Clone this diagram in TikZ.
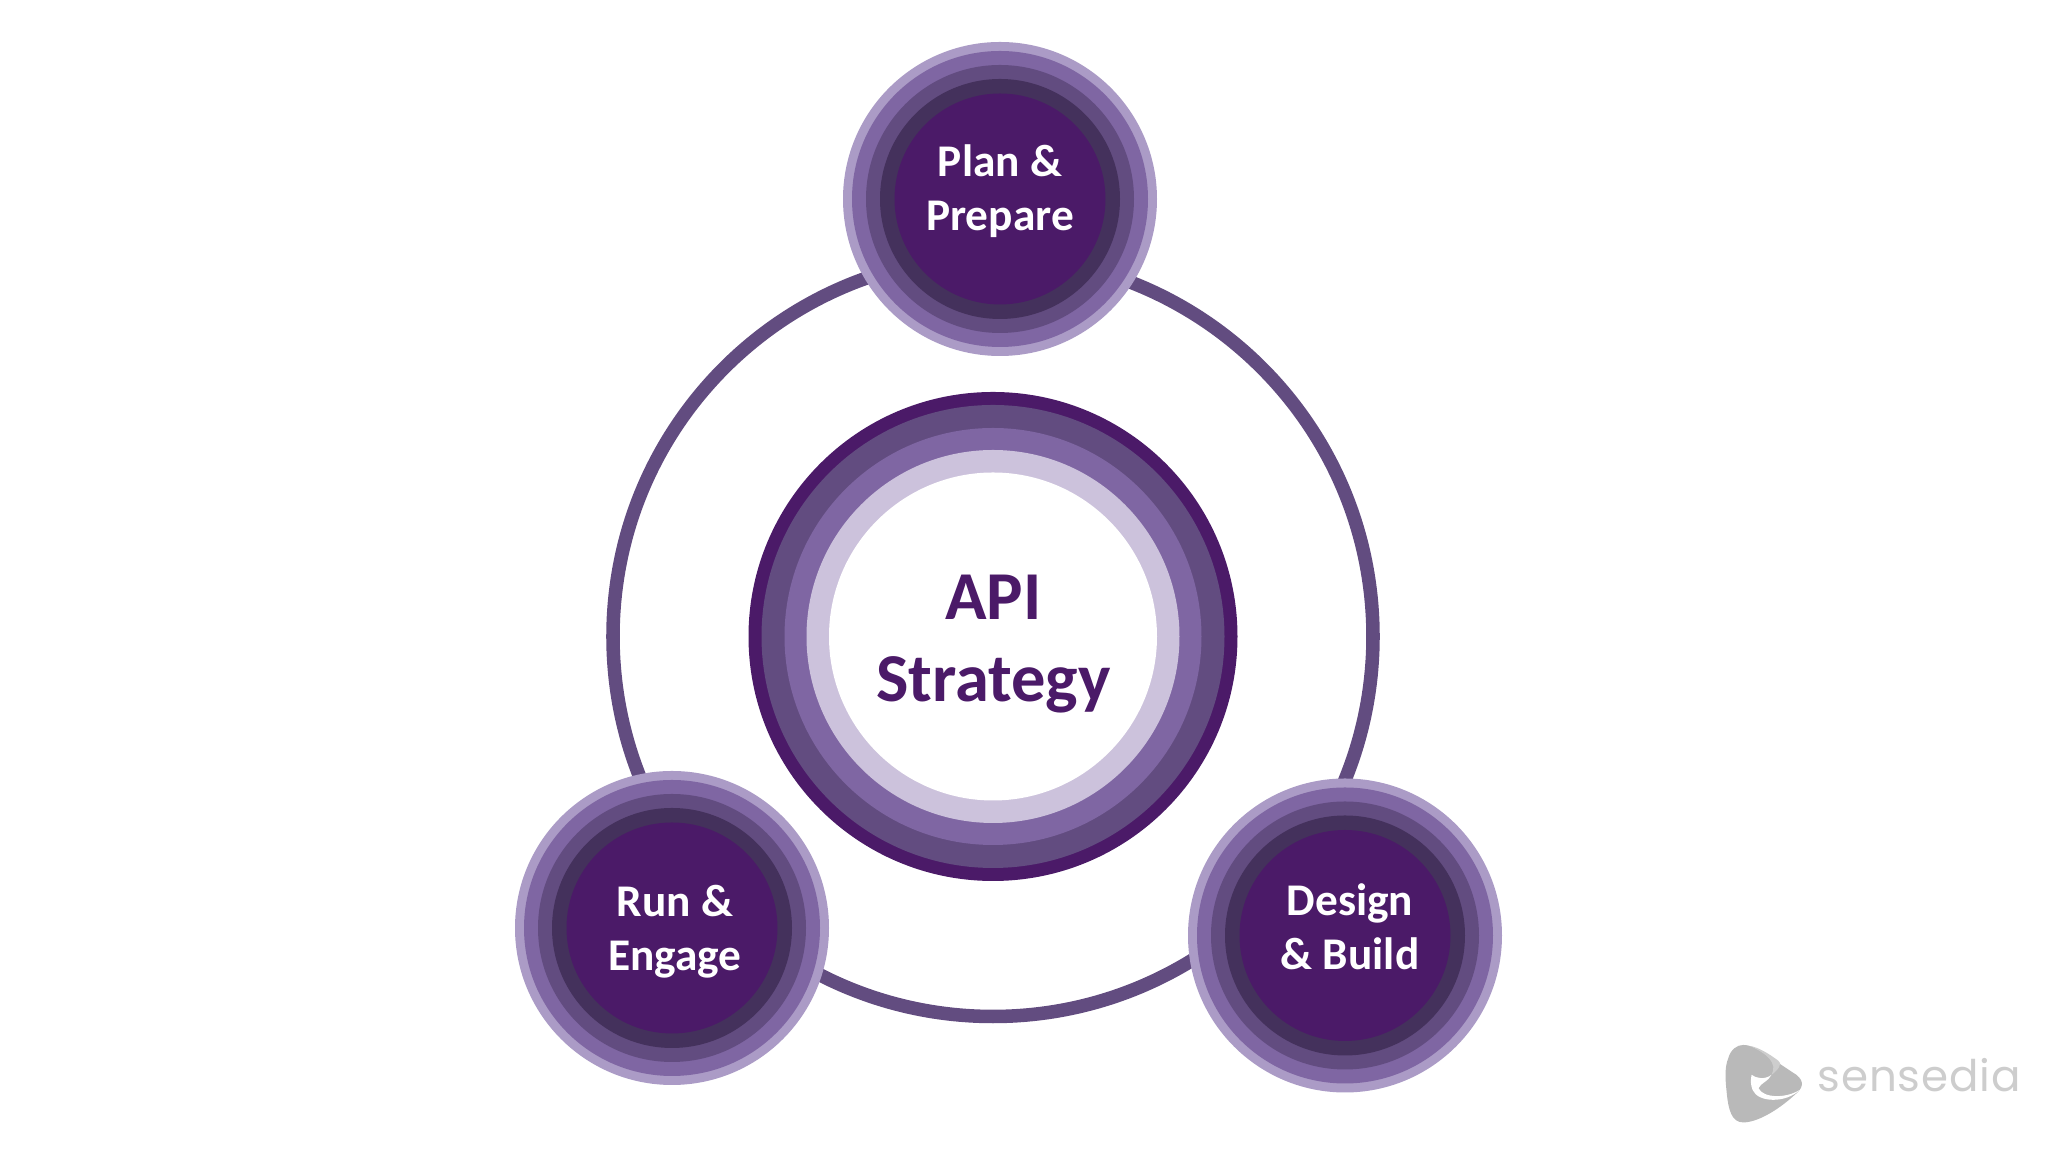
\documentclass[tikz,border=0pt]{standalone}
\usepackage{fontspec}
\setmainfont{Carlito}
\newfontfamily\logofont[LetterSpace=2]{Poppins}
\usetikzlibrary{positioning}

\definecolor{inkpurple}{HTML}{4B1A68}
\definecolor{darkband}{HTML}{44315C}
\definecolor{midband}{HTML}{624C80}
\definecolor{softband}{HTML}{7F66A3}
\definecolor{paleband}{HTML}{AB9BC6}
\definecolor{mistband}{HTML}{CCC2DC}
\definecolor{logogrey}{HTML}{B9B9B9}
\definecolor{logofold}{HTML}{CDCDCD}

\tikzset{
    disc/.style={circle, inner sep=0pt, minimum size=#1*2cm},
    steplabel/.style={align=center, text=white, font=\fontsize{12.9}{15.4}\selectfont\bfseries},
    hublabel/.style={align=center, text=inkpurple, font=\fontsize{19.5}{23.3}\selectfont\bfseries},
    orbit/.style={draw=midband, line width=3.85pt}
}

\begin{document}
\begin{tikzpicture}
    \useasboundingbox (0,0) rectangle (20.48,11.52);

    % Big ring behind everything
    \coordinate (hub) at (9.93,5.155);
    \draw[orbit] (hub) circle (3.80);

    % Middle circle
    \foreach \r/\c [count=\i] in {2.445/inkpurple, 2.315/midband, 2.085/softband, 1.865/mistband, 1.64/white}
        \node[disc=\r, fill=\c] (hub\i) at (hub) {};
    \node[hublabel] (hubtext) at (9.935,5.08) {API\\Strategy};

    % The three outer circles
    \foreach \name/\x/\y in {plan/10.00/9.53, run/6.72/2.24, design/13.45/2.165}
        \foreach \r/\c [count=\i] in {1.57/paleband, 1.48/softband, 1.34/midband, 1.20/darkband, 1.055/inkpurple}
            \node[disc=\r, fill=\c] (\name\i) at (\x,\y) {};

    \node[steplabel] (plantext) at (10.00,9.61) {Plan \&\\Prepare};
    \node[steplabel] (runtext) at (6.75,2.20) {Run \&\\Engage};
    \node[steplabel] (designtext) at (13.50,2.25) {Design\\\& Build};

    % Logo, in the units of the corner crop
    \begin{scope}[shift={(17,1.32)}, x=0.00333cm, y=-0.00333cm]
        \fill[logogrey] (130,75) .. controls (165,75) and (190,100) .. (290,165)
            .. controls (315,185) and (310,205) .. (285,225)
            .. controls (230,275) and (170,308) .. (130,308)
            .. controls (95,308) and (85,270) .. (80,215)
            .. controls (75,170) and (75,140) .. (85,115)
            .. controls (92,90) and (110,75) .. (130,75) -- cycle;
        \fill[logofold] (150,78) .. controls (200,100) and (235,130) .. (215,165)
            .. controls (235,150) and (250,130) .. (235,122)
            .. controls (205,100) and (175,82) .. (150,78) -- cycle;
        \fill[white] (155,165) .. controls (170,176) and (195,180) .. (215,165)
            .. controls (205,185) and (182,190) .. (176,205)
            .. controls (190,236) and (260,236) .. (300,210)
            .. controls (260,250) and (175,250) .. (158,210)
            .. controls (152,195) and (152,180) .. (155,165) -- cycle;
    \end{scope}
    \node[anchor=base west, inner sep=0pt, text=logofold, font=\logofont\fontsize{12.4}{16}\selectfont] (logotext) at (18.17,0.60) {sensedia};
\end{tikzpicture}
\end{document}
